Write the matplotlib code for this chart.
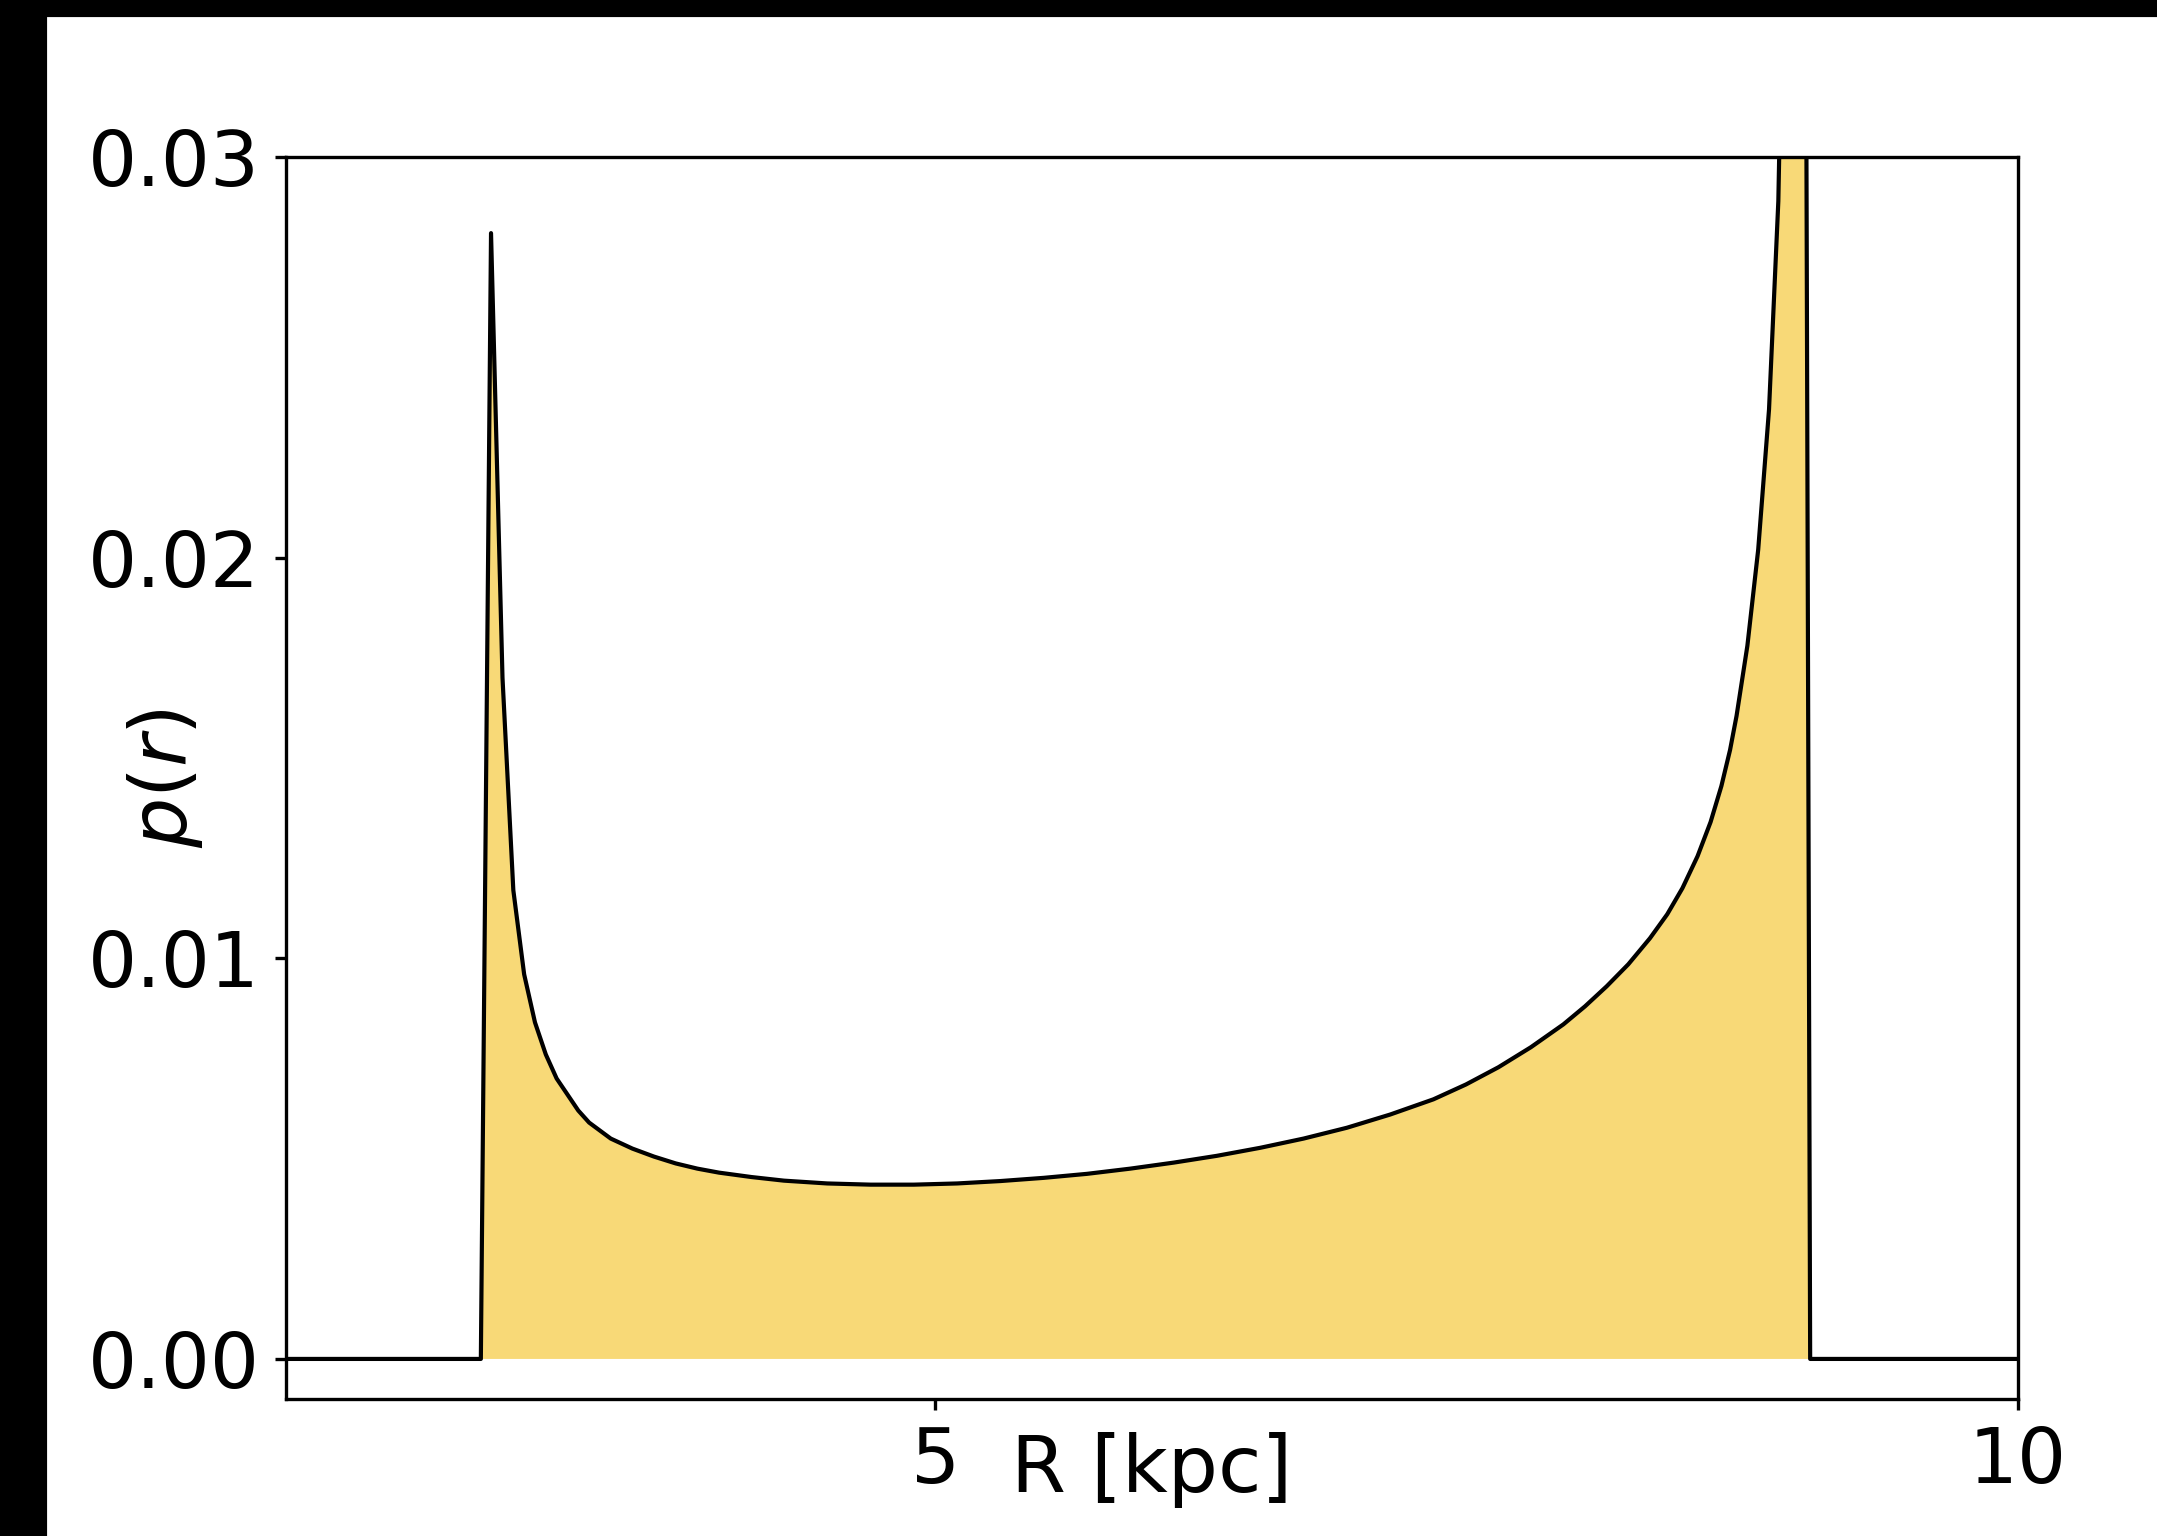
import numpy as np
import matplotlib
matplotlib.use('Agg')
import matplotlib.pyplot as plt
from matplotlib.patches import Rectangle

# Radial probability density p(r) of the orbit (R in kpc)
r = [2.00, 2.90, 2.947, 3.00, 3.05, 3.10, 3.15, 3.20, 3.25, 3.30,
     3.35, 3.40, 3.45, 3.50, 3.60, 3.70, 3.80, 3.90, 4.00, 4.15,
     4.30, 4.50, 4.70, 4.90, 5.10, 5.30, 5.50, 5.70, 5.90, 6.10,
     6.30, 6.50, 6.70, 6.90, 7.10, 7.30, 7.45, 7.60, 7.75, 7.90,
     8.00, 8.10, 8.20, 8.30, 8.38, 8.45, 8.52, 8.58, 8.63, 8.67,
     8.70, 8.75, 8.80, 8.85, 8.893, 8.95, 9.00, 9.04, 10.0]
p = [0.0, 0.0, 0.0281, 0.0170, 0.0117, 0.0096, 0.0084, 0.0076, 0.0070, 0.0066,
     0.0062, 0.0059, 0.0057, 0.0055, 0.00525, 0.00505, 0.00488, 0.00475, 0.00465, 0.00454,
     0.00445, 0.00438, 0.00435, 0.00435, 0.00438, 0.00444, 0.00452, 0.00462, 0.00475, 0.00490,
     0.00507, 0.00527, 0.00550, 0.00577, 0.00610, 0.00648, 0.00685, 0.00728, 0.00778, 0.00835,
     0.00880, 0.00930, 0.00985, 0.01050, 0.01110, 0.01175, 0.01255, 0.01340, 0.01430, 0.01520,
     0.01605, 0.01780, 0.02020, 0.02370, 0.02890, 0.0450, 0.0700, 0.0, 0.0]

x_ticks = [5, 10]
y_ticks = [0.00, 0.01, 0.02, 0.03]
y_ticklabels = ['0.00', '0.01', '0.02', '0.03']

fig = plt.figure(figsize=(2157/300, 1536/300), dpi=300)
ax = fig.add_axes([286/2157, 1 - 1399/1536, (2018 - 286)/2157, (1399 - 157)/1536])

ax.fill_between(r, p, 0, color='#f8d977', linewidth=0)
ax.plot(r, p, color='black', linewidth=1.0)

ax.set_xlim(2, 10)
ax.set_ylim(-0.001, 0.03)
ax.set_xticks(x_ticks)
ax.set_yticks(y_ticks)
ax.set_yticklabels(y_ticklabels)
ax.tick_params(labelsize=18.5, length=2.7)
ax.set_xlabel('R [kpc]', fontsize=19, labelpad=-16)
ax.set_ylabel('$p(r)$', fontsize=19, labelpad=-28)

# black margins along the top and left edge
fig.patches.append(Rectangle((0, 1 - 15/1536), 1, 15/1536, transform=fig.transFigure,
                             color='black', zorder=10))
fig.patches.append(Rectangle((0, 0), 45/2157, 1, transform=fig.transFigure,
                             color='black', zorder=10))

fig.savefig('out.png', dpi=300)
